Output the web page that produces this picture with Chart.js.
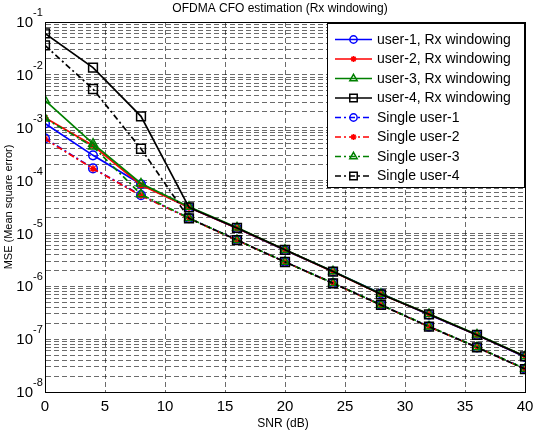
<!DOCTYPE html>
<html>
<head>
<meta charset="utf-8">
<script src="https://cdn.jsdelivr.net/npm/chart.js@4.4.0/dist/chart.umd.min.js"></script>
<style>
  body { margin: 0; background: #fff; }
  #wrap { width: 533px; height: 432px; position: relative; }
</style>
</head>
<body>
<div id="wrap"><canvas id="cfo"></canvas></div>
<script>
// --- data ---
const snr = [0, 4, 8, 12, 16, 20, 24, 28, 32, 36, 40];

const rxUser1 = [1.2e-3, 3.0e-4, 8.5e-5, 3.1e-5, 1.25e-5, 4.8e-6, 1.9e-6, 7.3e-7, 2.9e-7, 1.2e-7, 4.6e-8];
const rxUser2 = [1.55e-3, 4.6e-4, 8.2e-5, 3.1e-5, 1.26e-5, 4.85e-6, 1.88e-6, 7.1e-7, 2.95e-7, 1.2e-7, 4.7e-8];
const rxUser3 = [3.3e-3, 5.0e-4, 8.8e-5, 3.2e-5, 1.3e-5, 4.9e-6, 1.92e-6, 7.2e-7, 3.0e-7, 1.22e-7, 4.75e-8];
const rxUser4 = [6.1e-2, 1.37e-2, 1.64e-3, 3.1e-5, 1.27e-5, 4.9e-6, 1.9e-6, 7.05e-7, 2.95e-7, 1.2e-7, 4.7e-8];
const single1 = [6.3e-4, 1.7e-4, 5.3e-5, 1.95e-5, 7.5e-6, 2.9e-6, 1.15e-6, 4.45e-7, 1.73e-7, 7.0e-8, 2.75e-8];
const single2 = [6.1e-4, 1.68e-4, 5.2e-5, 1.93e-5, 7.4e-6, 2.88e-6, 1.14e-6, 4.4e-7, 1.72e-7, 7.0e-8, 2.72e-8];
const single3 = [1.5e-3, 4.4e-4, 5.5e-5, 1.95e-5, 7.5e-6, 2.9e-6, 1.15e-6, 4.45e-7, 1.74e-7, 7.05e-8, 2.75e-8];
const single4 = [3.6e-2, 5.4e-3, 4.0e-4, 1.93e-5, 7.5e-6, 2.88e-6, 1.14e-6, 4.43e-7, 1.72e-7, 7.0e-8, 2.72e-8];

const labels = ['user-1, Rx windowing', 'user-2, Rx windowing', 'user-3, Rx windowing', 'user-4, Rx windowing',
                'Single user-1', 'Single user-2', 'Single user-3', 'Single user-4'];
const series = [rxUser1, rxUser2, rxUser3, rxUser4, single1, single2, single3, single4];

const xTicks = [0, 5, 10, 15, 20, 25, 30, 35, 40];
const yExponents = [-8, -7, -6, -5, -4, -3, -2, -1];

const titleText = 'OFDMA CFO estimation (Rx windowing)';
const xTitle = 'SNR (dB)';
const yTitle = 'MSE (Mean square error)';

// styles per series
const colors = ['#0000ff', '#ff0000', '#008000', '#000000'];
const markers = [
  { pointStyle: 'circle', radius: 4.3 },
  { pointStyle: 'star', radius: 3.5 },
  { pointStyle: 'triangle', radius: 5 },
  { pointStyle: 'rect', radius: 6.2 }
];
const dashDot = [6, 3, 2, 3];
const FONT = '"Liberation Sans", Arial, sans-serif';

const datasets = series.map((vals, i) => {
  const k = i % 4;
  return {
    label: labels[i],
    data: snr.map((s, j) => ({ x: s, y: vals[j] })),
    borderColor: colors[k],
    backgroundColor: 'rgba(0,0,0,0)',
    pointBorderColor: colors[k],
    pointBackgroundColor: k === 1 ? colors[k] : 'rgba(0,0,0,0)',
    pointStyle: markers[k].pointStyle,
    pointRadius: markers[k].radius,
    pointBorderWidth: 1.5,
    borderWidth: 1.7,
    borderDash: i < 4 ? [] : dashDot,
    tension: 0,
    order: 7 - i
  };
});

// draws the box, tick labels, titles and the legend
const decor = {
  id: 'decor',
  afterDraw(chart) {
    const { ctx, chartArea: a, scales: { x, y } } = chart;
    ctx.save();
    ctx.strokeStyle = '#000';
    ctx.lineWidth = 1;
    ctx.setLineDash([]);
    ctx.strokeRect(a.left + 0.5, a.top + 0.5, a.right - a.left, a.bottom - a.top);

    ctx.fillStyle = '#000';
    // x tick labels
    ctx.font = '15px ' + FONT;
    ctx.textAlign = 'center';
    ctx.textBaseline = 'middle';
    xTicks.forEach(t => ctx.fillText(String(t), x.getPixelForValue(t), a.bottom + 15));

    // y tick labels 10^n
    yExponents.forEach(e => {
      const py = y.getPixelForValue(Math.pow(10, e));
      ctx.font = '15px ' + FONT;
      ctx.textAlign = 'right';
      ctx.textBaseline = 'middle';
      ctx.fillText('10', a.left - 12, py + 1);
      ctx.font = '11px ' + FONT;
      ctx.textAlign = 'left';
      ctx.fillText(String(e), a.left - 12, py - 9);
    });

    // titles
    ctx.font = '12px ' + FONT;
    ctx.textAlign = 'center';
    ctx.textBaseline = 'middle';
    ctx.fillText(titleText, 280, 9);
    ctx.fillText(xTitle, 283, 424);
    ctx.font = '11px ' + FONT;
    ctx.save();
    ctx.translate(9, (a.top + a.bottom) / 2);
    ctx.rotate(-Math.PI / 2);
    ctx.fillText(yTitle, 0, 0);
    ctx.restore();

    // legend
    const lx = 327, ly = 23, lw = 197, lh = 164;
    ctx.fillStyle = '#fff';
    ctx.fillRect(lx, ly, lw, lh);
    ctx.strokeStyle = '#000';
    ctx.lineWidth = 1;
    ctx.strokeRect(lx + 0.5, ly + 0.5, lw, lh);
    chart.data.datasets.forEach((ds, i) => {
      const ry = ly + 16.5 + i * 19.5;
      ctx.strokeStyle = ds.borderColor;
      ctx.lineWidth = 1.7;
      ctx.setLineDash(ds.borderDash);
      ctx.beginPath();
      ctx.moveTo(335, ry);
      ctx.lineTo(372, ry);
      ctx.stroke();
      ctx.setLineDash([]);
      ctx.lineWidth = 1.5;
      ctx.fillStyle = ds.pointBackgroundColor;
      Chart.helpers.drawPoint(ctx, {
        pointStyle: ds.pointStyle,
        radius: ds.pointRadius * 0.85,
        rotation: 0,
        borderWidth: 1.5
      }, 353.5, ry);
      ctx.fillStyle = '#000';
      ctx.font = '14px ' + FONT;
      ctx.textAlign = 'left';
      ctx.textBaseline = 'middle';
      ctx.fillText(ds.label, 377, ry + 0.5);
    });
    ctx.restore();
  }
};

const gridStyle = {
  color: 'rgba(0,0,0,0.58)',
  lineWidth: 1,
  drawTicks: false
};
const borderStyle = { display: true, color: '#000', width: 1, dash: [5, 3] };

new Chart(document.getElementById('cfo'), {
  type: 'line',
  data: { datasets },
  options: {
    responsive: true,
    maintainAspectRatio: false,
    animation: false,
    layout: { padding: { left: 45, right: 8, top: 22, bottom: 40 } },
    plugins: { legend: { display: false }, title: { display: false }, tooltip: { enabled: false } },
    scales: {
      x: {
        type: 'linear',
        min: 0,
        max: 40,
        afterBuildTicks: s => { s.ticks = xTicks.map(v => ({ value: v })); },
        ticks: { display: false },
        grid: gridStyle,
        border: borderStyle
      },
      y: {
        type: 'logarithmic',
        min: 1e-8,
        max: 1e-1,
        afterBuildTicks: s => {
          const t = [];
          yExponents.forEach(e => {
            for (let m = 1; m <= 9; m++) {
              const v = m * Math.pow(10, e);
              if (v <= 1e-1 * 1.0001) t.push({ value: v });
            }
          });
          s.ticks = t;
        },
        ticks: { display: false },
        grid: gridStyle,
        border: borderStyle
      }
    }
  },
  plugins: [decor]
});
</script>
</body>
</html>
